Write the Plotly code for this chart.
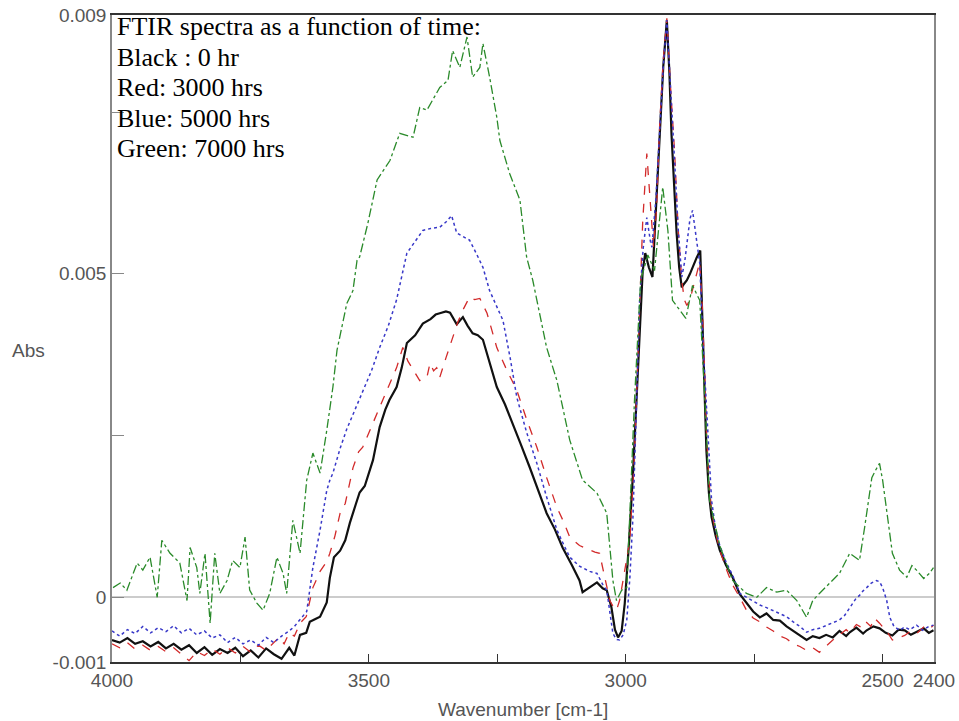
import numpy as np
import plotly.graph_objects as go

# Wavenumber (cm-1) and absorbance (in units of 0.001 Abs)
wn_black = [4000,3985,3970,3955,3940,3925,3910,3895,3880,3865,3850,3835,3820,3805,3790,3775,3760,3745,3730,3715,
            3700,3685,3670,3655,3645,3634,3622,3615,3605,3595,3582,3576,3568,3556,3546,3537,3525,3518,3508,3492,
            3479,3468,3460,3446,3436,3426,3410,3395,3380,3370,3362,3350,3342,3329,3317,3308,3298,3288,3278,3265,
            3251,3235,3220,3205,3187,3170,3154,3138,3123,3105,3090,3084,3070,3056,3045,3037,3028,3021,3015,3008,
            3002,2994,2986,2979,2973,2967,2962,2955,2948,2941,2934,2927,2920,2915,2911,2906,2901,2896,2891,2886,
            2881,2875,2870,2862,2855,2850,2846,2843,2838,2833,2825,2817,2805,2792,2778,2765,2752,2739,2726,2713,
            2700,2687,2674,2661,2648,2636,2623,2610,2597,2584,2571,2564,2551,2538,2531,2518,2506,2494,2481,2469,
            2457,2445,2434,2420,2410,2401]
abs_black = [-0.66,-0.70,-0.63,-0.72,-0.68,-0.76,-0.69,-0.79,-0.72,-0.81,-0.74,-0.86,-0.77,-0.89,-0.80,-0.86,-0.78,-0.91,-0.82,-0.93,
             -0.79,-0.88,-0.95,-0.78,-0.90,-0.58,-0.55,-0.38,-0.34,-0.30,-0.08,0.30,0.62,0.72,0.88,1.15,1.45,1.62,1.72,2.12,
             2.63,2.90,3.05,3.25,3.55,3.93,4.05,4.23,4.30,4.37,4.39,4.42,4.40,4.22,4.33,4.20,4.08,4.05,3.98,3.62,
             3.25,2.98,2.69,2.38,2.01,1.65,1.30,1.05,0.77,0.50,0.26,0.08,0.15,0.23,0.14,0.11,-0.15,-0.50,-0.62,-0.52,
             -0.10,0.80,1.90,3.00,4.10,5.05,5.32,5.10,4.95,6.00,7.20,8.20,8.92,8.10,7.17,6.30,5.63,5.10,4.79,4.85,
             4.90,5.00,5.10,5.25,5.36,4.20,3.00,2.27,1.60,1.24,0.95,0.73,0.50,0.31,0.05,-0.09,-0.22,-0.31,-0.25,-0.35,
             -0.36,-0.45,-0.52,-0.60,-0.66,-0.60,-0.63,-0.58,-0.62,-0.52,-0.60,-0.54,-0.47,-0.56,-0.51,-0.45,-0.48,-0.55,-0.59,-0.50,
             -0.51,-0.58,-0.54,-0.48,-0.55,-0.51]

wn_red = [4000,3985,3970,3955,3940,3925,3910,3895,3880,3865,3850,3835,3820,3805,3790,3775,3760,3745,3730,3715,
          3700,3685,3675,3665,3655,3645,3634,3622,3609,3595,3582,3576,3566,3556,3546,3531,3520,3512,3500,3492,
          3476,3459,3446,3434,3424,3414,3401,3394,3387,3381,3374,3368,3362,3350,3337,3327,3317,3304,3294,3284,
          3270,3260,3251,3232,3212,3193,3173,3154,3134,3120,3109,3090,3070,3060,3051,3040,3031,3024,3018,3012,
          3002,2992,2983,2975,2967,2959,2952,2946,2940,2934,2927,2920,2913,2905,2898,2891,2886,2881,2875,2870,
          2862,2856,2851,2846,2843,2838,2833,2825,2817,2805,2792,2778,2765,2752,2739,2726,2713,2700,2687,2674,
          2661,2648,2636,2623,2610,2597,2584,2571,2564,2551,2538,2531,2523,2516,2506,2498,2490,2481,2469,2457,
          2445,2434,2420,2410,2401]
abs_red = [-0.72,-0.78,-0.70,-0.80,-0.74,-0.82,-0.76,-0.84,-0.78,-0.88,-0.98,-0.84,-0.90,-0.80,-0.88,-0.78,-0.86,-0.76,-0.85,-0.74,
           -0.82,-0.70,-0.62,-0.72,-0.55,-0.60,-0.40,-0.30,0.15,0.40,0.55,0.68,0.95,1.30,1.45,2.00,2.25,2.32,2.55,2.69,
           3.00,3.31,3.55,3.86,3.65,3.51,3.35,3.38,3.40,3.62,3.50,3.55,3.40,3.70,4.02,4.25,4.44,4.64,4.60,4.62,
           4.39,4.10,3.86,3.52,3.20,2.75,2.32,1.85,1.39,1.15,0.93,0.80,0.73,0.70,0.68,0.30,-0.05,-0.15,-0.20,-0.05,
           0.40,0.88,2.20,4.00,5.80,6.86,6.00,5.41,6.00,7.30,8.30,8.95,7.90,6.90,5.70,4.90,4.60,4.51,4.60,4.74,
           5.00,5.18,4.50,3.40,2.58,1.80,1.34,1.00,0.73,0.45,0.19,0.00,-0.20,-0.32,-0.38,-0.46,-0.52,-0.60,-0.64,-0.72,
           -0.76,-0.82,-0.78,-0.85,-0.75,-0.66,-0.58,-0.50,-0.55,-0.42,-0.48,-0.39,-0.45,-0.32,-0.40,-0.48,-0.55,-0.66,-0.62,-0.59,
           -0.52,-0.56,-0.46,-0.50,-0.43]

wn_blue = [4000,3985,3970,3955,3940,3925,3910,3895,3880,3865,3850,3835,3820,3805,3790,3775,3760,3745,3730,3715,
           3700,3685,3670,3655,3645,3634,3621,3609,3595,3582,3576,3570,3556,3543,3530,3512,3495,3479,3462,3446,
           3436,3426,3410,3395,3380,3362,3350,3339,3329,3317,3304,3290,3278,3265,3252,3239,3225,3212,3193,3173,
           3154,3134,3120,3109,3090,3070,3056,3045,3037,3030,3025,3018,3012,3005,2998,2992,2986,2979,2973,2966,
           2959,2952,2949,2941,2934,2927,2920,2913,2905,2898,2891,2885,2880,2875,2870,2863,2856,2850,2844,2838,
           2833,2825,2817,2805,2792,2778,2765,2752,2739,2726,2714,2700,2687,2674,2661,2648,2636,2623,2610,2597,
           2584,2574,2566,2559,2552,2545,2538,2531,2522,2512,2506,2500,2492,2486,2478,2467,2457,2447,2434,2422,
           2410,2401]
abs_blue = [-0.52,-0.60,-0.50,-0.56,-0.45,-0.55,-0.47,-0.53,-0.44,-0.55,-0.48,-0.58,-0.52,-0.63,-0.58,-0.70,-0.62,-0.72,-0.66,-0.74,
            -0.62,-0.70,-0.60,-0.52,-0.45,-0.35,-0.22,0.46,1.04,1.65,1.81,1.92,2.30,2.60,2.85,3.20,3.50,3.86,4.20,4.60,
            4.95,5.32,5.50,5.67,5.70,5.72,5.80,5.90,5.63,5.58,5.52,5.30,5.10,4.74,4.50,4.28,3.70,3.09,2.55,2.07,
            1.55,1.04,0.80,0.62,0.48,0.40,0.37,0.20,0.11,-0.25,-0.56,-0.65,-0.66,-0.58,-0.35,0.30,1.24,3.00,4.59,5.40,
            5.87,5.50,5.41,6.20,7.20,8.20,8.92,7.80,6.75,5.70,4.95,5.20,5.52,5.85,5.98,5.60,5.16,4.00,3.04,2.10,
            1.50,1.05,0.80,0.55,0.34,0.06,0.00,-0.07,-0.12,-0.16,-0.20,-0.25,-0.30,-0.38,-0.45,-0.54,-0.50,-0.48,-0.44,-0.40,
            -0.35,-0.28,-0.18,-0.09,-0.02,0.03,0.10,0.15,0.22,0.26,0.24,0.15,-0.05,-0.31,-0.45,-0.51,-0.46,-0.50,-0.43,-0.51,
            -0.45,-0.43]

wn_green = [3998,3984,3971,3951,3940,3926,3912,3903,3887,3868,3854,3848,3835,3829,3819,3809,3800,3790,3776,3765,
            3751,3741,3732,3718,3706,3693,3679,3667,3660,3648,3634,3621,3609,3595,3582,3570,3562,3543,3531,3523,
            3518,3502,3484,3459,3440,3414,3401,3387,3362,3346,3337,3323,3309,3298,3284,3278,3265,3251,3245,3226,
            3206,3193,3181,3154,3134,3109,3084,3056,3037,3025,3018,3008,2998,2983,2971,2957,2944,2928,2918,2909,
            2895,2883,2870,2856,2846,2837,2817,2792,2765,2745,2726,2706,2687,2667,2648,2636,2623,2597,2584,2564,
            2545,2535,2521,2514,2506,2500,2492,2481,2467,2453,2443,2434,2420,2409,2401]
abs_green = [0.15,0.22,0.11,0.53,0.42,0.62,0.00,0.88,0.68,0.53,-0.05,0.77,0.46,0.06,0.68,-0.40,0.68,0.06,0.26,0.57,
             0.46,0.93,0.11,-0.09,-0.20,0.06,0.62,0.37,0.06,1.19,0.68,1.81,2.23,1.92,2.58,3.25,3.82,4.54,4.74,5.21,
             5.26,5.78,6.45,6.75,7.17,7.11,7.57,7.53,7.88,7.99,8.45,8.19,8.66,8.04,8.19,8.56,8.04,7.42,7.06,6.55,
             6.14,5.26,4.90,3.86,3.35,2.43,1.81,1.61,1.30,0.26,-0.05,0.11,0.15,3.04,4.90,5.29,5.05,6.34,5.67,4.59,
             4.44,4.31,4.82,4.59,3.04,1.50,0.80,0.26,0.06,0.00,0.15,0.08,0.11,-0.05,-0.31,-0.05,0.06,0.26,0.37,0.68,
             0.57,1.08,1.85,1.96,2.07,1.81,1.30,0.68,0.42,0.31,0.49,0.42,0.29,0.37,0.46]

x_tick_vals = [4000, 3500, 3000, 2500, 2400]
x_tick_text = ["4000", "3500", "3000", "2500", "2400"]
y_tick_vals = [-0.001, 0, 0.005, 0.009]
y_tick_text = ["-0.001", "0", "0.005", "0.009"]
note_lines = ["FTIR spectra as a function of time:", "Black : 0 hr", "Red: 3000 hrs",
              "Blue: 5000 hrs", "Green: 7000 hrs"]

MILLI = 1e-3
series = [
    ("Black : 0 hr", wn_black, abs_black, "#111111", "solid", 2.2),
    ("Red: 3000 hrs", wn_red, abs_red, "#d22a2a", "dash", 1.3),
    ("Blue: 5000 hrs", wn_blue, abs_blue, "#3838c8", "dot", 1.5),
    ("Green: 7000 hrs", wn_green, abs_green, "#2a8a2a", "dashdot", 1.3),
]

fig = go.Figure()
for name, xs, ys, color, dash, w in series:
    fig.add_trace(go.Scatter(x=xs, y=np.array(ys) * MILLI, mode="lines", name=name,
                             line=dict(color=color, dash=dash, width=w)))

tick_font = dict(family="Liberation Sans", size=19, color="#555555")

annotations = []
for i, line in enumerate(note_lines):
    annotations.append(dict(xref="paper", yref="paper", x=0, y=1, xanchor="left", yanchor="top",
                            xshift=3, yshift=5 - 30.6 * i, align="left", showarrow=False, text=line,
                            font=dict(family="Liberation Serif", size=26, color="black")))
annotations.append(dict(xref="paper", yref="paper", x=0, y=0.482, xanchor="center", yanchor="middle",
                        xshift=-84, showarrow=False, text="Abs", font=tick_font))
annotations.append(dict(xref="paper", yref="paper", x=0.5, y=0, xanchor="center", yanchor="middle",
                        yshift=-47, showarrow=False, text="Wavenumber [cm-1]", font=tick_font))

fig.update_layout(
    width=959, height=721,
    margin=dict(l=112, r=25, t=15, b=59),
    paper_bgcolor="white", plot_bgcolor="white",
    showlegend=False,
    xaxis=dict(range=[4000, 2400], tickmode="array", tickvals=x_tick_vals, ticktext=x_tick_text,
               ticks="inside", ticklen=8, tickcolor="#333333", showgrid=False, zeroline=False,
               showline=True, linecolor="#333333", linewidth=1.5, mirror=True, automargin=False,
               tickfont=tick_font,
               minor=dict(dtick=250, tick0=0, ticks="inside", ticklen=8, tickcolor="#333333", showgrid=False)),
    yaxis=dict(range=[-0.001, 0.009], tickmode="array", tickvals=y_tick_vals, ticktext=y_tick_text,
               ticks="inside", ticklen=12, tickcolor="#888888", showgrid=False,
               zeroline=True, zerolinecolor="#cccccc", zerolinewidth=1.5,
               showline=True, linecolor="#888888", linewidth=1.5, mirror=True, automargin=False,
               tickfont=tick_font,
               minor=dict(dtick=0.0025, tick0=0, ticks="inside", ticklen=12, tickcolor="#888888", showgrid=False)),
    annotations=annotations,
)

fig.write_html("out.html", config={"displayModeBar": False})

with open("out.html", "r", encoding="utf-8") as f:
    html = f.read()
html = html.replace("<head>", "<head><style>html,body{margin:0;padding:0;overflow:hidden;}</style>", 1)
with open("out.html", "w", encoding="utf-8") as f:
    f.write(html)
